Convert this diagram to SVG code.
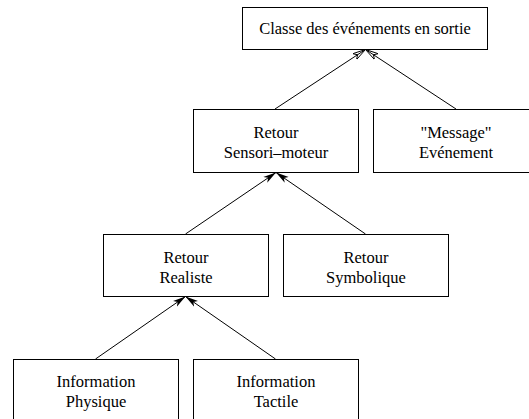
<svg xmlns="http://www.w3.org/2000/svg" width="529" height="419" viewBox="0 0 529 419">
<defs>
<marker id="open" viewBox="0 0 13 8" refX="13" refY="4" markerWidth="13" markerHeight="8" markerUnits="userSpaceOnUse" orient="auto">
<path d="M0,0.5 L13,4 L0,7.5 L3.5,4 Z" fill="none" stroke="#000" stroke-width="0.9"/>
</marker>
<marker id="filled" viewBox="0 0 13 8" refX="13" refY="4" markerWidth="13" markerHeight="8" markerUnits="userSpaceOnUse" orient="auto">
<path d="M0,0.5 L13,4 L0,7.5 L3.5,4 Z" fill="#000"/>
</marker>
</defs>
<style>
rect{fill:#fff;stroke:#000;stroke-width:1}
text{font-family:"Liberation Serif","Times New Roman",serif;font-size:16.5px;fill:#000;text-anchor:middle}
.c line{stroke:#000;stroke-width:1}
.o{marker-end:url(#open)}
.f{marker-end:url(#filled)}
</style>
<rect x="0" y="0" width="529" height="419" style="fill:#fff;stroke:none"/>
<g class="c" id="connectors">
<line class="o" x1="275" y1="109" x2="365.5" y2="49.5"/>
<line class="o" x1="456" y1="109" x2="365.5" y2="49.5"/>
<line class="f" x1="185.5" y1="234" x2="276" y2="172.5"/>
<line class="f" x1="365.5" y1="234" x2="276" y2="172.5"/>
<line class="f" x1="95.5" y1="359" x2="185.5" y2="296.5"/>
<line class="f" x1="275.5" y1="359" x2="185.5" y2="296.5"/>
</g>
<g id="classe">
<rect x="242.5" y="7.5" width="245" height="42"/>
<text x="365" y="34">Classe des événements en sortie</text>
</g>
<g id="sensori">
<rect x="193.5" y="109.5" width="165" height="63"/>
<text x="276" y="138">Retour</text>
<text x="276" y="158">Sensori–moteur</text>
</g>
<g id="message">
<rect x="373.5" y="109.5" width="165" height="63"/>
<text x="456" y="138">"Message"</text>
<text x="456" y="158">Evénement</text>
</g>
<g id="realiste">
<rect x="103.5" y="234.5" width="165" height="62"/>
<text x="186" y="263">Retour</text>
<text x="186" y="283">Realiste</text>
</g>
<g id="symbolique">
<rect x="283.5" y="234.5" width="165" height="62"/>
<text x="366" y="263">Retour</text>
<text x="366" y="283">Symbolique</text>
</g>
<g id="physique">
<rect x="13.5" y="359.5" width="165" height="70"/>
<text x="96" y="387">Information</text>
<text x="96" y="407">Physique</text>
</g>
<g id="tactile">
<rect x="193.5" y="359.5" width="165" height="70"/>
<text x="276" y="387">Information</text>
<text x="276" y="407">Tactile</text>
</g>
</svg>
